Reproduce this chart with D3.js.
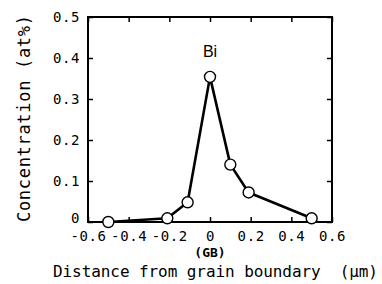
<!DOCTYPE html>
<html>
<head>
<meta charset="utf-8">
<script src="https://d3js.org/d3.v7.min.js"></script>
<style>
body { margin: 0; background: #fff; }
svg { display: block; }
</style>
</head>
<body>
<svg id="svg" width="382" height="284"></svg>
<script>
// distance from GB (um) vs Bi concentration (at%)
let distance = [-0.5, -0.21, -0.11, 0, 0.1, 0.19, 0.5];
let concentration = [0, 0.009, 0.048, 0.354, 0.14, 0.072, 0.009];
let xTicks = [-0.6, -0.4, -0.2, 0, 0.2, 0.4, 0.6];
let yTicks = [0, 0.1, 0.2, 0.3, 0.4, 0.5];

let plotLeft = 88, plotRight = 332, plotTop = 17, plotBottom = 222;
let mono = "DejaVu Sans Mono, monospace";

let svg = d3.select("svg");
let x = d3.scaleLinear().domain([-0.6, 0.6]).range([plotLeft, plotRight]);
let y = d3.scaleLinear().domain([0, 0.5]).range([plotBottom, plotTop]);

function fmt(d) { return d === 0 ? "0" : d3.format(".1f")(d).replace("\u2212", "-"); }

// axes with inward ticks
let gx = svg.append("g").attr("transform", "translate(0," + plotBottom + ")")
  .call(d3.axisBottom(x).tickValues(xTicks).tickSize(-5).tickPadding(9).tickFormat(fmt));
let gy = svg.append("g").attr("transform", "translate(" + plotLeft + ",0)")
  .call(d3.axisLeft(y).tickValues(yTicks).tickSize(-5).tickPadding(8).tickFormat(fmt));
svg.append("g").attr("transform", "translate(0," + plotTop + ")")
  .call(d3.axisTop(x).tickValues(xTicks).tickSize(-5).tickFormat(""));
svg.append("g").attr("transform", "translate(" + plotRight + ",0)")
  .call(d3.axisRight(y).tickValues(yTicks).tickSize(-5).tickFormat(""));

svg.selectAll(".domain").remove();
svg.selectAll(".tick line").attr("stroke", "#000").attr("stroke-width", 1.5);
svg.selectAll(".tick text")
  .attr("font-family", mono).attr("font-size", 14)
  .attr("letter-spacing", 0.6).attr("fill", "#000");
gx.selectAll(".tick text").attr("dy", "0.71em");
// the "0" on the y axis sits a little above its tick
gy.selectAll(".tick text").filter(d => d === 0).attr("y", -4);

svg.append("rect")
  .attr("x", plotLeft).attr("y", plotTop)
  .attr("width", plotRight - plotLeft).attr("height", plotBottom - plotTop)
  .attr("fill", "none").attr("stroke", "#000").attr("stroke-width", 2);

// data line and markers
let pts = distance.map((d, i) => [d, concentration[i]]);
svg.append("path")
  .datum(pts)
  .attr("d", d3.line().x(d => x(d[0])).y(d => y(d[1])))
  .attr("fill", "none").attr("stroke", "#000").attr("stroke-width", 2.6)
  .attr("stroke-linejoin", "round");

svg.selectAll("circle.pt").data(pts).enter().append("circle")
  .attr("class", "pt")
  .attr("cx", d => x(d[0])).attr("cy", d => y(d[1]))
  .attr("r", 5.5).attr("fill", "#fff").attr("stroke", "#000").attr("stroke-width", 1.4);

// labels
svg.append("text").attr("x", x(0)).attr("y", 57).attr("text-anchor", "middle")
  .attr("font-family", "Liberation Sans, Arial, sans-serif").attr("font-size", 16)
  .text("Bi");

svg.append("text").attr("x", x(0)).attr("y", 257).attr("text-anchor", "middle")
  .attr("font-family", mono).attr("font-size", 13).attr("font-weight", "bold")
  .text("(GB)");

svg.append("text").attr("x", 53).attr("y", 277)
  .attr("font-family", mono).attr("font-size", 16)
  .attr("textLength", 325).attr("lengthAdjust", "spacing")
  .style("white-space", "pre")
  .text("Distance from grain boundary  (\u03bcm)");

svg.append("text")
  .attr("transform", "translate(30," + (15 + 222) / 2 + ") rotate(-90)")
  .attr("text-anchor", "middle")
  .attr("font-family", mono).attr("font-size", 17)
  .attr("textLength", 207).attr("lengthAdjust", "spacing")
  .text("Concentration (at%)");
</script>
</body>
</html>
